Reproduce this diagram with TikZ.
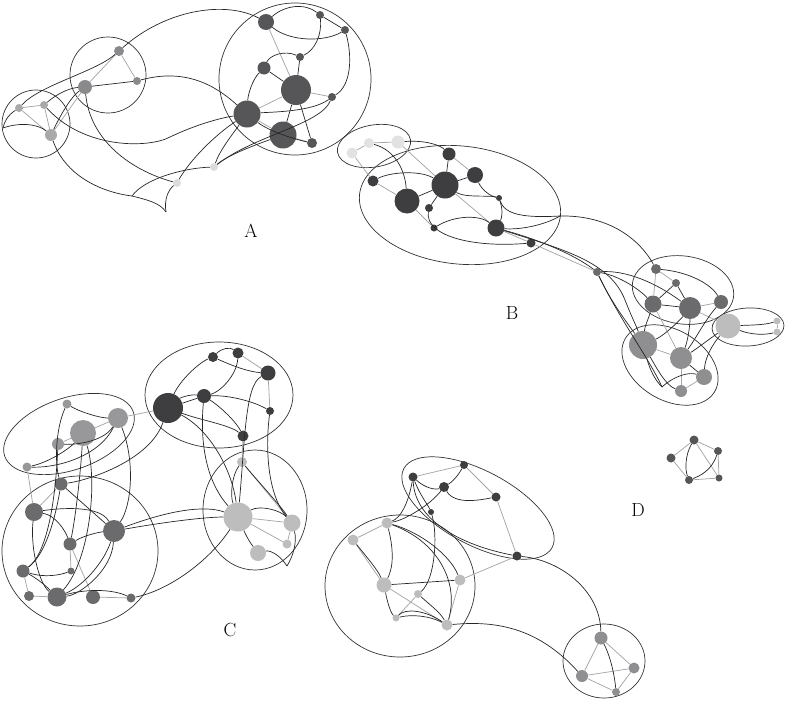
\documentclass[tikz,border=0pt]{standalone}
\usepackage{xcolor}
\usepackage{tikz}
\usetikzlibrary{calc}

\definecolor{mA}{HTML}{8A8A8C}
\definecolor{lA}{HTML}{A9A9AB}
\definecolor{vA}{HTML}{DCDCDC}
\definecolor{dA}{HTML}{565658}
\definecolor{dB}{HTML}{3E3E40}
\definecolor{vB}{HTML}{E2E2E2}
\definecolor{gB}{HTML}{6B6B6D}
\definecolor{lB}{HTML}{BDBDBD}
\definecolor{mB}{HTML}{8F8F91}
\definecolor{gC}{HTML}{98989A}

\tikzset{
  nd/.style 2 args={circle,inner sep=0pt,minimum size=#2,fill=#1},
  ge/.style={draw=gray!70,line width=0.75pt},
  be/.style={draw=black!85,line width=0.7pt},
  grp/.style={draw=black!80,line width=0.7pt},
  lbl/.style={font=\fontsize{19}{21}\selectfont}
}

\begin{document}
\begin{tikzpicture}[x=1pt,y=-1pt]
\useasboundingbox (0,0) rectangle (786,707);

% ---- A
\draw[grp] (36,124) circle [radius=34]; \draw[grp] (108,75) circle [radius=38]; \draw[grp] (295,79) circle [radius=76];
\node[nd={mA}{10pt}] (a1) at (119,51) {}; \node[nd={mA}{14pt}] (a2) at (85,87) {}; \node[nd={mA}{8pt}] (a3) at (137,81) {};
\node[nd={lA}{8pt}] (a4) at (19,108) {}; \node[nd={lA}{8pt}] (a5) at (44,105) {}; \node[nd={lA}{12pt}] (a6) at (51,135) {};
\node[nd={vA}{8pt}] (a7) at (177,183) {}; \node[nd={vA}{8pt}] (a8) at (214,167) {};
\node[nd={dA}{16pt}] (r1) at (266,22) {}; \node[nd={dA}{8pt}] (r2) at (320,15) {}; \node[nd={dA}{8pt}] (r3) at (345,30) {};
\node[nd={dA}{8pt}] (r4) at (300,57) {}; \node[nd={dA}{13pt}] (r5) at (264,68) {}; \node[nd={dA}{30pt}] (r6) at (296,90) {};
\node[nd={dA}{8pt}] (r7) at (332,97) {}; \node[nd={dA}{27pt}] (r8) at (247,114) {}; \node[nd={dA}{27pt}] (r9) at (283,135) {};
\node[nd={dA}{10pt}] (r10) at (312,143) {};
\coordinate (lf) at (3,128); \coordinate (cu1) at (132,196); \coordinate (cu2) at (166,212);
\draw[ge] (a1)--(a2); \draw[ge] (a1)--(a3); \draw[ge] (a4)--(a5); \draw[ge] (a4)--(a6); \draw[ge] (a5)--(a6); \draw[ge] (a2)--(a6);
\draw[ge] (r1)--(r6); \draw[ge] (r6)--(r7); \draw[ge] (r8)--(r6); \draw[ge] (r9)--(r10); \draw[ge] (r8)--(r9);
\draw[be] (a2)--(a3); \draw[be] (r2)--(r3); \draw[be] (r4)--(r6); \draw[be] (r5)--(r6); \draw[be] (r6)--(r9); \draw[be] (r6)--(r10);
\draw[be] (a1) .. controls (165,10) and (225,0) .. (r1);
\draw[be] (a3) .. controls (185,68) and (215,85) .. (r8);
\draw[be] (a2) .. controls (90,140) and (130,170) .. (a7);
\draw[be] (a6) .. controls (65,175) and (100,192) .. (cu1);
\draw[be] (cu1) .. controls (148,200) and (160,203) .. (cu2);
\draw[be] (cu2) .. controls (164,200) and (168,190) .. (a7);
\draw[be] (cu1) .. controls (145,178) and (185,168) .. (a8);
\draw[be] (a5) .. controls (85,150) and (150,148) .. (170,137) .. controls (195,125) and (220,118) .. (r8);
\draw[be] (a4) .. controls (8,115) and (4,122) .. (lf);
\draw[be] (lf) .. controls (20,122) and (38,124) .. (a6);
\draw[be] (a4) .. controls (40,85) and (95,72) .. (a1);
\draw[be] (a5) .. controls (58,93) and (70,88) .. (a2);
\draw[be] (a6) .. controls (62,112) and (72,96) .. (a2);
\draw[be] (r1) .. controls (285,5) and (305,3) .. (r2);
\draw[be] (r1) .. controls (290,42) and (325,42) .. (r3);
\draw[be] (r2) .. controls (322,35) and (315,50) .. (r4);
\draw[be] (r4) .. controls (285,50) and (270,55) .. (r5);
\draw[be] (r5) .. controls (252,80) and (248,95) .. (r8);
\draw[be] (r3) .. controls (352,55) and (352,85) .. (r7);
\draw[be] (r7) .. controls (312,112) and (270,112) .. (r8);
\draw[be] (r8) .. controls (270,132) and (298,140) .. (r10);
\draw[be] (r8) .. controls (215,135) and (190,160) .. (a7);
\draw[be] (r8) .. controls (232,135) and (220,150) .. (a8);
\draw[be] (r9) .. controls (255,145) and (228,155) .. (a8);
\draw[be] (r7) .. controls (320,125) and (255,135) .. (a8);
\node[lbl] (labA) at (251,231) {A};

% ---- B
\draw[grp,rotate around={10:(374,146)}] (374,146) ellipse [x radius=37,y radius=21];
\draw[grp,rotate around={-6:(460,205)}] (460,205) ellipse [x radius=101,y radius=59];
\draw[grp,rotate around={-8:(683,290)}] (683,290) ellipse [x radius=51,y radius=34];
\draw[grp,rotate around={-31:(670,365)}] (670,365) ellipse [x radius=52,y radius=35];
\draw[grp,rotate around={3:(748,327)}] (748,327) ellipse [x radius=36,y radius=19];
\node[nd={vB}{11pt}] (b1) at (352,153) {}; \node[nd={vB}{10pt}] (b2) at (369,143) {}; \node[nd={vB}{13pt}] (b3) at (398,142) {};
\node[nd={dB}{13pt}] (b4) at (449,154) {}; \node[nd={dB}{16pt}] (b5) at (475,175) {}; \node[nd={dB}{27pt}] (b6) at (445,185) {};
\node[nd={dB}{11pt}] (b7) at (373,181) {}; \node[nd={dB}{25pt}] (b8) at (407,201) {}; \node[nd={dB}{8pt}] (b9) at (429,208) {};
\node[nd={dB}{6pt}] (b10) at (499,198) {}; \node[nd={dB}{7pt}] (b11) at (434,228) {}; \node[nd={dB}{17pt}] (b12) at (496,228) {};
\node[nd={dB}{9pt}] (b13) at (531,243) {};
\node[nd={gB}{8pt}] (c1) at (597,272) {};
\node[nd={gB}{10pt}] (d1) at (656,269) {}; \node[nd={gB}{8pt}] (d2) at (676,283) {}; \node[nd={gB}{17pt}] (d3) at (653,304) {};
\node[nd={gB}{22pt}] (d4) at (690,308) {}; \node[nd={gB}{14pt}] (d5) at (721,302) {};
\node[nd={lB}{25pt}] (e1) at (728,326) {}; \node[nd={lB}{7pt}] (e2) at (777,321) {}; \node[nd={lB}{7pt}] (e3) at (777,332) {};
\node[nd={mB}{28pt}] (f1) at (643,345) {}; \node[nd={mB}{22pt}] (f2) at (681,358) {}; \node[nd={mB}{16pt}] (f3) at (704,377) {};
\node[nd={mB}{12pt}] (f4) at (681,391) {};
\coordinate (bj) at (560,216); \coordinate (cu3) at (662,387);
\draw[ge] (b1)--(b2); \draw[ge] (b2)--(b3); \draw[ge] (b1)--(b7); \draw[ge] (b3)--(b6); \draw[ge] (b4)--(b5); \draw[ge] (b7)--(b8);
\draw[ge] (b8)--(b11); \draw[ge] (b6)--(b12); \draw[ge] (b12)--(b13); \draw[ge] (b13)--(c1);
\draw[ge] (d1)--(d2); \draw[ge] (d1)--(d3); \draw[ge] (d4)--(d5); \draw[ge] (d4)--(e1); \draw[ge] (d3)--(f2); \draw[ge] (e2)--(e3);
\draw[ge] (f1)--(f2); \draw[ge] (f3)--(f4); \draw[ge] (f2)--(f4);
\draw[be] (b4)--(b6); \draw[be] (b5)--(b6); \draw[be] (b6)--(b8); \draw[be] (b6)--(b9); \draw[be] (d3)--(d4); \draw[be] (d2)--(d4);
\draw[be] (f2)--(f3); \draw[be] (d2)--(d3);
\draw[be] (b2) .. controls (395,150) and (405,170) .. (b8);
\draw[be] (b3) .. controls (425,140) and (440,145) .. (b4);
\draw[be] (b7) .. controls (390,172) and (420,170) .. (b6);
\draw[be] (b6) .. controls (465,198) and (490,195) .. (b10);
\draw[be] (b5) .. controls (482,190) and (490,196) .. (b10);
\draw[be] (b10) .. controls (503,210) and (502,218) .. (b12);
\draw[be] (b11) .. controls (455,215) and (480,215) .. (b12);
\draw[be] (b9) .. controls (425,235) and (470,248) .. (b13);
\draw[be] (b10) .. controls (505,215) and (525,218) .. (bj);
\draw[be] (b12) .. controls (520,230) and (545,225) .. (bj);
\draw[be] (bj) .. controls (610,215) and (640,240) .. (d1);
\draw[be] (b12) .. controls (540,240) and (575,255) .. (c1);
\draw[be] (b12) .. controls (565,250) and (610,262) .. (625,300) .. controls (632,318) and (636,325) .. (f1);
\draw[be] (c1) .. controls (625,270) and (655,282) .. (d4);
\draw[be] (c1) .. controls (620,276) and (640,290) .. (d3);
\draw[be] (c1) .. controls (610,300) and (625,320) .. (f1);
\draw[be] (c1) .. controls (620,320) and (650,360) .. (cu3);
\draw[be] (cu3) .. controls (675,375) and (690,372) .. (f3);
\draw[be] (f1) .. controls (650,370) and (655,380) .. (cu3);
\draw[be] (d1) .. controls (690,272) and (712,285) .. (d5);
\draw[be] (d3) .. controls (648,320) and (645,325) .. (f1);
\draw[be] (d4) .. controls (680,320) and (665,335) .. (f1);
\draw[be] (d4) .. controls (690,325) and (688,340) .. (f2);
\draw[be] (d5) .. controls (705,320) and (695,340) .. (f2);
\draw[be] (e1) .. controls (712,345) and (705,358) .. (f3);
\draw[be] (e1) .. controls (708,340) and (695,350) .. (f2);
\draw[be] (e1) .. controls (752,325) and (765,325) .. (e2);
\draw[be] (e1) .. controls (752,335) and (765,335) .. (e3);
\draw[be] (f1) .. controls (655,365) and (665,385) .. (f4);
\node[lbl] (labB) at (512,313) {B};

% ---- D (small)
\node[nd={dA}{9pt}] (p1) at (694,440) {}; \node[nd={dA}{8pt}] (p2) at (718,451) {}; \node[nd={dA}{9pt}] (p3) at (671,458) {};
\node[nd={dA}{7pt}] (p4) at (719,478) {}; \node[nd={dA}{8pt}] (p5) at (689,480) {};
\draw[ge] (p1)--(p2); \draw[ge] (p1)--(p3); \draw[ge] (p3)--(p5); \draw[ge] (p2)--(p4); \draw[ge] (p4)--(p5); \draw[ge] (p1)--(p4);
\draw[be] (p1) .. controls (685,455) and (685,470) .. (p5);
\draw[be] (p2) .. controls (712,470) and (700,476) .. (p5);

% ---- C
\draw[grp,rotate around={19:(69,434)}] (69,434) ellipse [x radius=68,y radius=36];
\draw[grp] (219,395) ellipse [x radius=74,y radius=53];
\draw[grp] (80,551) ellipse [x radius=78,y radius=75];
\draw[grp] (255,510) ellipse [x radius=52,y radius=60];
\node[nd={gC}{9pt}] (g1) at (67,404) {}; \node[nd={gC}{26pt}] (g2) at (83,433) {}; \node[nd={gC}{20pt}] (g3) at (118,418) {};
\node[nd={gC}{12pt}] (g4) at (58,444) {}; \node[nd={gC}{9pt}] (g5) at (27,467) {};
\node[nd={dB}{30pt}] (h1) at (168,408) {}; \node[nd={dB}{14pt}] (h2) at (204,396) {}; \node[nd={dB}{10pt}] (h3) at (213,357) {};
\node[nd={dB}{11pt}] (h4) at (238,353) {}; \node[nd={dB}{15pt}] (h5) at (268,373) {}; \node[nd={dB}{8pt}] (h6) at (270,411) {};
\node[nd={dB}{11pt}] (h7) at (243,436) {};
\node[nd={gB}{13pt}] (i1) at (61,484) {}; \node[nd={gB}{18pt}] (i2) at (34,512) {}; \node[nd={gB}{22pt}] (i3) at (114,531) {};
\node[nd={gB}{13pt}] (i4) at (70,544) {}; \node[nd={gB}{13pt}] (i5) at (23,571) {}; \node[nd={gB}{7pt}] (i6) at (71,571) {};
\node[nd={gB}{10pt}] (i7) at (29,596) {}; \node[nd={gB}{19pt}] (i8) at (57,597) {}; \node[nd={gB}{14pt}] (i9) at (93,597) {};
\node[nd={gB}{9pt}] (i10) at (131,598) {};
\node[nd={lB}{10pt}] (j1) at (242,462) {}; \node[nd={lB}{29pt}] (j2) at (238,517) {}; \node[nd={lB}{17pt}] (j3) at (292,523) {};
\node[nd={lB}{9pt}] (j4) at (287,544) {}; \node[nd={lB}{16pt}] (j5) at (258,553) {};
\coordinate (cu4) at (287,566);
\draw[ge] (g2)--(g3); \draw[ge] (g4)--(g2); \draw[ge] (g5)--(i2); \draw[ge] (g3)--(h1); \draw[ge] (i1)--(i2); \draw[ge] (i4)--(i6);
\draw[ge] (i4)--(i9); \draw[ge] (i5)--(i7); \draw[ge] (i7)--(i8); \draw[ge] (i9)--(i10); \draw[ge] (h4)--(h5); \draw[ge] (h5)--(h6);
\draw[ge] (h7)--(j1); \draw[ge] (j1)--(j3); \draw[ge] (j2)--(j3); \draw[ge] (j2)--(j4); \draw[ge] (j3)--(j4);
\draw[be] (h1)--(h2); \draw[be] (i1)--(i3);
\draw[be] (h1) .. controls (180,398) and (190,394) .. (h2);
\draw[be] (g1) .. controls (80,412) and (100,418) .. (g3);
\draw[be] (g1) .. controls (55,430) and (55,465) .. (i1);
\draw[be] (g4) .. controls (80,445) and (105,440) .. (g3);
\draw[be] (g5) .. controls (50,462) and (70,448) .. (g2);
\draw[be] (g5) .. controls (60,468) and (100,455) .. (g3);
\draw[be] (g3) .. controls (135,460) and (132,505) .. (i3);
\draw[be] (g2) .. controls (80,480) and (75,520) .. (i4);
\draw[be] (g2) .. controls (98,480) and (90,560) .. (i8);
\draw[be] (g4) .. controls (55,510) and (45,555) .. (i5);
\draw[be] (i1) .. controls (90,480) and (150,460) .. (h1);
\draw[be] (i2) .. controls (60,508) and (100,505) .. (i3);
\draw[be] (i2) .. controls (55,515) and (65,530) .. (i4);
\draw[be] (i2) .. controls (30,550) and (40,585) .. (i8);
\draw[be] (i1) .. controls (55,520) and (45,555) .. (i5);
\draw[be] (i4) .. controls (85,535) and (100,532) .. (i3);
\draw[be] (i5) .. controls (40,580) and (50,590) .. (i8);
\draw[be] (i5) .. controls (45,578) and (60,575) .. (i6);
\draw[be] (i8) .. controls (85,585) and (105,560) .. (i3);
\draw[be] (i8) .. controls (80,595) and (112,570) .. (i3);
\draw[be] (i8) .. controls (90,588) and (115,590) .. (i10);
\draw[be] (i3) .. controls (170,510) and (205,505) .. (j2);
\draw[be] (i3) .. controls (165,522) and (205,517) .. (j2);
\draw[be] (i10) .. controls (170,590) and (210,560) .. (j2);
\draw[be] (h1) .. controls (180,380) and (200,362) .. (h3);
\draw[be] (h3) .. controls (222,348) and (230,347) .. (h4);
\draw[be] (h3) .. controls (235,367) and (250,372) .. (h5);
\draw[be] (h4) .. controls (237,375) and (220,392) .. (h2);
\draw[be] (h2) .. controls (230,395) and (255,402) .. (h6);
\draw[be] (h2) .. controls (225,410) and (238,425) .. (h7);
\draw[be] (h1) .. controls (200,420) and (230,425) .. (h7);
\draw[be] (h1) .. controls (210,430) and (232,470) .. (j2);
\draw[be] (h2) .. controls (200,440) and (205,480) .. (j2);
\draw[be] (h5) .. controls (245,385) and (245,440) .. (j2);
\draw[be] (h6) .. controls (265,450) and (268,495) .. (j3);
\draw[be] (j1) .. controls (232,475) and (230,495) .. (j2);
\draw[be] (j1) .. controls (255,478) and (280,505) .. (j3);
\draw[be] (j2) .. controls (260,505) and (280,510) .. (j3);
\draw[be] (j2) .. controls (248,540) and (252,545) .. (j5);
\draw[be] (j5) .. controls (270,550) and (280,555) .. (cu4);
\draw[be] (j3) .. controls (297,540) and (294,555) .. (cu4);
\node[lbl] (labC) at (230,630) {C};

% ---- D
\draw[grp,rotate around={-28:(478,508)}] (478,508) ellipse [x radius=84,y radius=37];
\draw[grp] (400,586) ellipse [x radius=75,y radius=71];
\draw[grp] (604,661) ellipse [x radius=41,y radius=37];
\node[nd={dB}{9pt}] (k1) at (413,477) {}; \node[nd={dB}{8pt}] (k2) at (464,465) {}; \node[nd={dB}{10pt}] (k3) at (444,487) {};
\node[nd={dB}{9pt}] (k4) at (496,497) {}; \node[nd={dB}{6pt}] (k5) at (431,512) {}; \node[nd={dB}{9pt}] (k6) at (517,556) {};
\node[nd={lB}{11pt}] (l1) at (387,523) {}; \node[nd={lB}{11pt}] (l2) at (353,540) {}; \node[nd={lB}{15pt}] (l3) at (384,585) {};
\node[nd={lB}{11pt}] (l4) at (460,580) {}; \node[nd={lB}{8pt}] (l5) at (418,594) {}; \node[nd={lB}{7pt}] (l6) at (396,618) {};
\node[nd={lB}{11pt}] (l7) at (447,625) {};
\node[nd={mB}{13pt}] (m1) at (601,638) {}; \node[nd={mB}{11pt}] (m2) at (634,668) {}; \node[nd={mB}{12pt}] (m3) at (582,676) {};
\node[nd={mB}{8pt}] (m4) at (616,692) {};
\draw[ge] (k1)--(k2); \draw[ge] (k2)--(k4); \draw[ge] (k4)--(k6); \draw[ge] (k6)--(l4); \draw[ge] (l1)--(l2); \draw[ge] (l2)--(l3);
\draw[ge] (l3)--(l7); \draw[ge] (l5)--(l6); \draw[ge] (l4)--(l7);
\draw[ge] (m1)--(m2); \draw[ge] (m1)--(m3); \draw[ge] (m3)--(m2); \draw[ge] (m3)--(m4); \draw[ge] (m2)--(m4);
\draw[be] (l3)--(l4);
\draw[be] (k1) .. controls (425,488) and (435,490) .. (k3);
\draw[be] (k3) .. controls (455,480) and (460,472) .. (k2);
\draw[be] (k3) .. controls (455,505) and (480,500) .. (k4);
\draw[be] (k1) .. controls (408,505) and (400,518) .. (l1);
\draw[be] (k3) .. controls (430,505) and (405,520) .. (l1);
\draw[be] (k1) .. controls (415,520) and (460,545) .. (k6);
\draw[be] (k1) .. controls (420,495) and (428,505) .. (k5);
\draw[be] (k5) .. controls (438,535) and (435,580) .. (l5);
\draw[be] (l1) .. controls (395,555) and (392,570) .. (l3);
\draw[be] (l2) .. controls (365,555) and (378,570) .. (l3);
\draw[be] (l1) .. controls (435,540) and (460,580) .. (l7);
\draw[be] (l1) .. controls (420,532) and (450,555) .. (l4);
\draw[be] (l3) .. controls (387,600) and (390,612) .. (l6);
\draw[be] (l6) .. controls (405,608) and (425,610) .. (l7);
\draw[be] (l6) .. controls (412,614) and (430,616) .. (l7);
\draw[be] (l5) .. controls (430,605) and (440,612) .. (l7);
\draw[be] (l7) .. controls (500,620) and (540,630) .. (m3);
\draw[be] (k6) .. controls (560,560) and (600,590) .. (m1);
\draw[be] (m1) .. controls (612,660) and (615,680) .. (m4);
\node[lbl] (labD) at (638,510) {D};
\end{tikzpicture}
\end{document}
